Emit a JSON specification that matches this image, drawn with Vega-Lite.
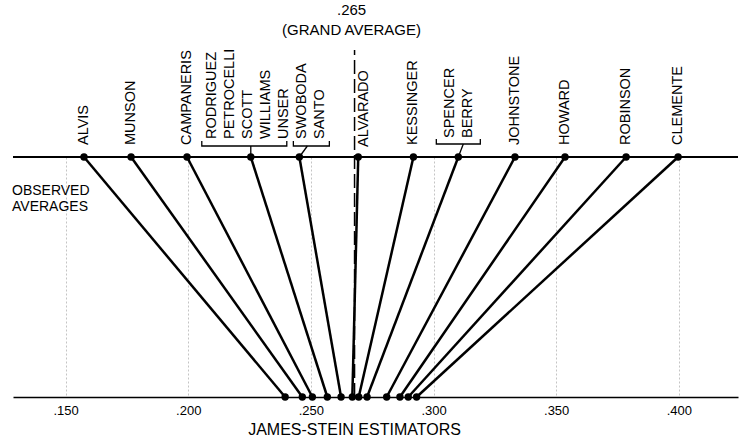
{
  "$schema": "https://vega.github.io/schema/vega-lite/v6.json",
  "width": 725,
  "height": 240,
  "autosize": {"type": "none"},
  "padding": {"left": 13, "top": 157, "right": 16, "bottom": 49},
  "background": "white",
  "config": {"view": {"stroke": null}, "font": "Liberation Sans", "text": {"color": "black"}},
  "data": {
    "values": [
      {"label": "ALVIS", "grp": "single", "observed": 0.1575, "js": 0.2395},
      {"label": "MUNSON", "grp": "single", "observed": 0.1767, "js": 0.2465},
      {"label": "CAMPANERIS", "grp": "single", "observed": 0.1995, "js": 0.2506},
      {"label": "RODRIGUEZ\nPETROCELLI\nSCOTT\nWILLIAMS\nUNSER", "grp": "rod", "observed": 0.2255, "js": 0.2567},
      {"label": "SWOBODA\nSANTO", "grp": "swo", "observed": 0.2453, "js": 0.2623},
      {"label": "ALVARADO", "grp": "alv", "observed": 0.2693, "js": 0.2669},
      {"label": "KESSINGER", "grp": "single", "observed": 0.2918, "js": 0.2695},
      {"label": "SPENCER\nBERRY", "grp": "spe", "observed": 0.3101, "js": 0.2729},
      {"label": "JOHNSTONE", "grp": "single", "observed": 0.3332, "js": 0.2809},
      {"label": "HOWARD", "grp": "single", "observed": 0.3536, "js": 0.2863},
      {"label": "ROBINSON", "grp": "single", "observed": 0.3785, "js": 0.2897},
      {"label": "CLEMENTE", "grp": "single", "observed": 0.3997, "js": 0.2931}
    ]
  },
  "layer": [
    {
      "mark": {"type": "rule", "color": "black", "strokeWidth": 2.5},
      "encoding": {
        "x": {
          "field": "observed", "type": "quantitative",
          "scale": {"domain": [0.12856, 0.42412], "nice": false, "zero": false},
          "axis": {
            "values": [0.15, 0.2, 0.25, 0.3, 0.35, 0.4],
            "labelExpr": "replace(format(datum.value, '.3f'), '0.', '.')",
            "ticks": false, "tickSize": 0, "labelPadding": 7,
            "labelFontSize": 13, "labelColor": "black", "labelFont": "Liberation Sans",
            "domain": true, "domainColor": "black", "domainWidth": 1.5,
            "grid": true, "gridColor": "#c4c4c4", "gridDash": [2, 2], "gridWidth": 1,
            "title": "JAMES-STEIN ESTIMATORS", "titleFontSize": 16, "titleFontWeight": "normal",
            "titleColor": "black", "titleFont": "Liberation Sans",
            "titleX": 341, "titleY": 32, "titleAlign": "center", "titleBaseline": "middle"
          }
        },
        "x2": {"field": "js"},
        "y": {"datum": 1, "type": "quantitative", "scale": {"domain": [0, 1], "nice": false, "zero": false}, "axis": null},
        "y2": {"datum": 0}
      }
    },
    {
      "mark": {"type": "rule", "color": "black", "strokeWidth": 1.5},
      "encoding": {"y": {"datum": 1, "type": "quantitative"}}
    },
    {
      "data": {"values": [{"ga": 0.2678, "t": ".265\n(GRAND AVERAGE)"}]},
      "layer": [
        {
          "mark": {"type": "rule", "color": "black", "strokeWidth": 1.5, "strokeDash": [14, 5], "y2Offset": -107},
          "encoding": {
            "x": {"field": "ga", "type": "quantitative"},
            "y": {"datum": 0, "type": "quantitative"},
            "y2": {"datum": 1}
          }
        },
        {
          "mark": {"type": "text", "lineBreak": "\n", "align": "center", "baseline": "middle", "fontSize": 15, "lineHeight": 20, "dx": -3, "yOffset": -147},
          "encoding": {
            "x": {"field": "ga", "type": "quantitative"},
            "y": {"datum": 1, "type": "quantitative"},
            "text": {"field": "t"}
          }
        }
      ]
    },
    {
      "data": {"values": [{"t": "OBSERVED\nAVERAGES"}]},
      "mark": {"type": "text", "lineBreak": "\n", "align": "left", "baseline": "middle", "fontSize": 14, "lineHeight": 15.5, "dx": -1, "yOffset": 34},
      "encoding": {
        "x": {"datum": 0.12856, "type": "quantitative"},
        "y": {"datum": 1, "type": "quantitative"},
        "text": {"field": "t"}
      }
    },
    {
      "mark": {"type": "circle", "size": 55, "color": "black", "opacity": 1},
      "encoding": {
        "x": {"field": "observed", "type": "quantitative"},
        "y": {"datum": 1, "type": "quantitative"}
      }
    },
    {
      "mark": {"type": "circle", "size": 55, "color": "black", "opacity": 1},
      "encoding": {
        "x": {"field": "js", "type": "quantitative"},
        "y": {"datum": 0, "type": "quantitative"}
      }
    },
    {
      "transform": [{"filter": "datum.grp == 'single'"}],
      "mark": {"type": "text", "angle": 270, "align": "left", "baseline": "middle", "fontSize": 14.5, "yOffset": -12},
      "encoding": {
        "x": {"field": "observed", "type": "quantitative"},
        "y": {"datum": 1, "type": "quantitative"},
        "text": {"field": "label"}
      }
    },
    {
      "transform": [{"filter": "datum.grp == 'alv'"}],
      "mark": {"type": "text", "angle": 270, "align": "left", "baseline": "middle", "fontSize": 14.5, "yOffset": -10, "xOffset": 6},
      "encoding": {
        "x": {"field": "observed", "type": "quantitative"},
        "y": {"datum": 1, "type": "quantitative"},
        "text": {"field": "label"}
      }
    },
    {
      "transform": [{"filter": "datum.grp == 'rod'"}],
      "layer": [
        {
          "mark": {"type": "text", "angle": 270, "align": "left", "baseline": "middle", "fontSize": 14.5, "lineBreak": "\n", "lineHeight": 18, "yOffset": -18, "xOffset": -39},
          "encoding": {
            "x": {"field": "observed", "type": "quantitative"},
            "y": {"datum": 1, "type": "quantitative"},
            "text": {"field": "label"}
          }
        },
        {
          "mark": {"type": "rect", "filled": false, "stroke": "black", "strokeWidth": 1.3, "strokeDash": [0, 85, 95, 0], "xOffset": -49, "x2Offset": 36, "yOffset": -16, "y2Offset": -11},
          "encoding": {
            "x": {"field": "observed", "type": "quantitative"},
            "x2": {"field": "observed"},
            "y": {"datum": 1, "type": "quantitative"},
            "y2": {"datum": 1}
          }
        },
        {
          "mark": {"type": "rule", "color": "black", "strokeWidth": 1.3, "yOffset": -11},
          "encoding": {
            "x": {"field": "observed", "type": "quantitative"},
            "x2": {"field": "observed"},
            "y": {"datum": 1, "type": "quantitative"},
            "y2": {"datum": 1}
          }
        }
      ]
    },
    {
      "transform": [{"filter": "datum.grp == 'swo'"}],
      "layer": [
        {
          "mark": {"type": "text", "angle": 270, "align": "left", "baseline": "middle", "fontSize": 14.5, "lineBreak": "\n", "lineHeight": 18, "yOffset": -18, "xOffset": 3},
          "encoding": {
            "x": {"field": "observed", "type": "quantitative"},
            "y": {"datum": 1, "type": "quantitative"},
            "text": {"field": "label"}
          }
        },
        {
          "mark": {"type": "rect", "filled": false, "stroke": "black", "strokeWidth": 1.3, "strokeDash": [0, 36, 46, 0], "xOffset": -6, "x2Offset": 30, "yOffset": -16, "y2Offset": -11},
          "encoding": {
            "x": {"field": "observed", "type": "quantitative"},
            "x2": {"field": "observed"},
            "y": {"datum": 1, "type": "quantitative"},
            "y2": {"datum": 1}
          }
        },
        {
          "mark": {"type": "rule", "color": "black", "strokeWidth": 1.3, "yOffset": -11, "xOffset": 8},
          "encoding": {
            "x": {"field": "observed", "type": "quantitative"},
            "x2": {"field": "observed"},
            "y": {"datum": 1, "type": "quantitative"},
            "y2": {"datum": 1}
          }
        }
      ]
    },
    {
      "transform": [{"filter": "datum.grp == 'spe'"}],
      "layer": [
        {
          "mark": {"type": "text", "angle": 270, "align": "left", "baseline": "middle", "fontSize": 14.5, "lineBreak": "\n", "lineHeight": 18, "yOffset": -19, "xOffset": -8},
          "encoding": {
            "x": {"field": "observed", "type": "quantitative"},
            "y": {"datum": 1, "type": "quantitative"},
            "text": {"field": "label"}
          }
        },
        {
          "mark": {"type": "rect", "filled": false, "stroke": "black", "strokeWidth": 1.3, "strokeDash": [0, 44, 54, 0], "xOffset": -22, "x2Offset": 22, "yOffset": -18, "y2Offset": -13},
          "encoding": {
            "x": {"field": "observed", "type": "quantitative"},
            "x2": {"field": "observed"},
            "y": {"datum": 1, "type": "quantitative"},
            "y2": {"datum": 1}
          }
        },
        {
          "mark": {"type": "rule", "color": "black", "strokeWidth": 1.3, "yOffset": -13, "xOffset": 5},
          "encoding": {
            "x": {"field": "observed", "type": "quantitative"},
            "x2": {"field": "observed"},
            "y": {"datum": 1, "type": "quantitative"},
            "y2": {"datum": 1}
          }
        }
      ]
    }
  ]
}
